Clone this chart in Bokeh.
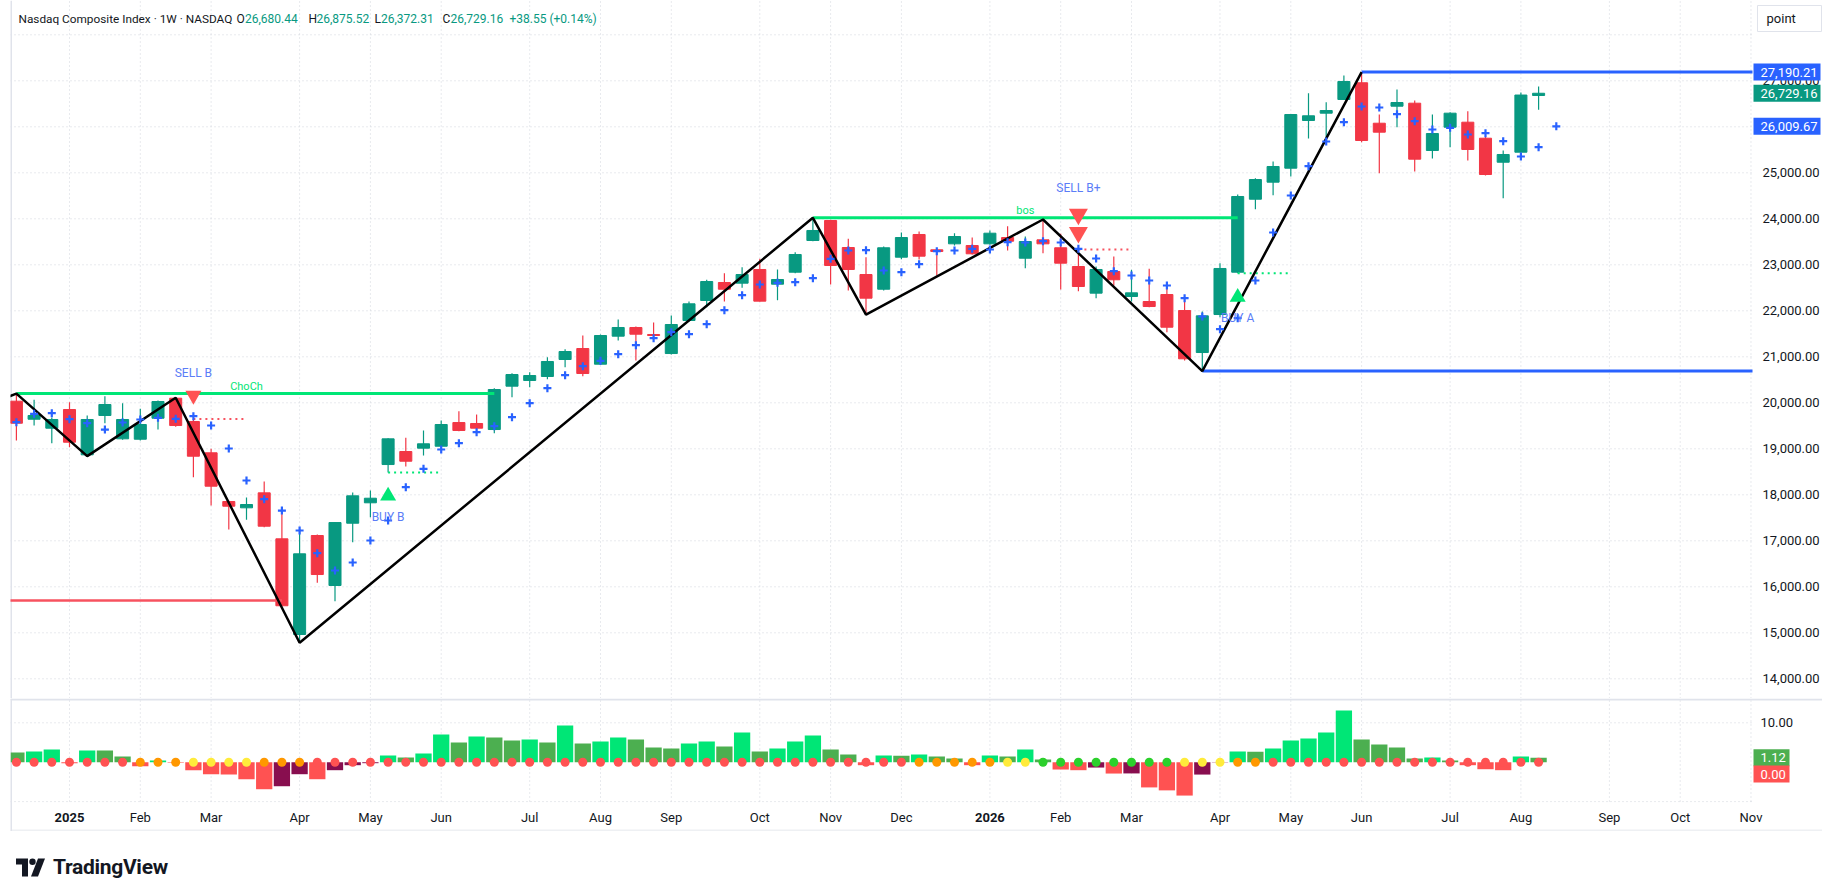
from bokeh.plotting import figure
from bokeh.models import Range1d, Label, ColumnDataSource, Div
from bokeh.layouts import column
from bokeh.embed import file_html
from bokeh.resources import INLINE
from bokeh.core.properties import value

FONT = "Roboto"
TXT = "#131722"
UP, DOWN = "#089981", "#F23645"
BLUE = "#2962FF"
GRID = "#d1d4dc"

# ---------------- data ----------------
# weekly bars, week index 0 = week of 2025-01-06
weeks = list(range(-3, 84))
opens = [20035, 19643, 19448, 19854, 18869, 19724, 19217, 19208, 19665, 20100,
         19593, 18913, 17854, 17717, 18043, 17043, 14963, 17115, 16028, 17382,
         17826, 18658, 18941, 19013, 19056, 19571, 19550, 19419, 20361, 20485,
         20572, 20941, 21180, 20839, 21448, 21637, 21485, 21071, 21789, 22224,
         22615, 22600, 22898, 22578, 22839, 23528, 23963, 23376, 22789, 22469,
         23165, 23659, 23326, 23456, 23419, 23456, 23593, 23143, 23543, 23370,
         22963, 22383, 22854, 22311, 22202, 22354, 22006, 21093, 21919, 22839,
         24426, 24796, 25100, 26137, 26296, 26594, 26957, 26078, 26448, 26513,
         25485, 25991, 26100, 25752, 25230, 25448, 26680.44]
highs = [20200, 20065, 19680, 20013, 19724, 20143, 19991, 19869, 20050, 20110,
         19650, 19000, 17870, 17941, 18289, 17658, 17261, 17137, 17410, 18050,
         18093, 19230, 19239, 19398, 19615, 19817, 19745, 20317, 20643, 20665,
         20991, 21165, 21463, 21485, 21811, 21659, 21746, 21898, 22202, 22674,
         22817, 22948, 23130, 22898, 23274, 24022, 23980, 23565, 23165, 23400,
         23702, 23724, 23330, 23687, 23593, 23746, 23839, 23615, 23985, 23674,
         23330, 22963, 23180, 22891, 22913, 22550, 22261, 21985, 23035, 24528,
         24883, 25246, 26280, 26731, 26535, 27115, 27190.21, 26267, 26811, 26572,
         26267, 26317, 26339, 25811, 25485, 26746, 26875.52]
lows = [19180, 19506, 19122, 19035, 18840, 19556, 19195, 19180, 19419, 19480,
        18382, 17767, 17245, 17456, 17295, 15575, 14784, 16087, 15687, 16969,
        17513, 18484, 18615, 18854, 18980, 19383, 19383, 19339, 20121, 20339,
        20513, 20774, 20578, 20833, 21354, 20919, 21426, 21050, 21767, 22078,
        22202, 22500, 22200, 22230, 22817, 23513, 22572, 22441, 21919, 22440,
        23122, 23115, 22767, 23419, 23224, 23435, 23311, 22926, 23252, 22463,
        22426, 22274, 22550, 22202, 22078, 21535, 20919, 20690.25, 21861, 22817,
        24209, 24513, 24920, 25746, 25739, 26590, 25665, 24991, 25991, 25028,
        25311, 25557, 25267, 24941, 24448, 25440, 26372.31]
closes = [19556, 19724, 19637, 19143, 19637, 19963, 19637, 19528, 20028, 19506,
          18839, 18187, 17752, 17789, 17317, 15588, 16717, 16267, 17397, 17978,
          17926, 19217, 18730, 19109, 19528, 19398, 19448, 20289, 20615, 20593,
          20898, 21115, 20637, 21463, 21637, 21491, 21463, 21702, 22152, 22637,
          22469, 22789, 22209, 22680, 23224, 23746, 22985, 22898, 22274, 23370,
          23593, 23187, 23289, 23615, 23239, 23687, 23513, 23506, 23456, 23035,
          22528, 22898, 22674, 22391, 22093, 21643, 20956, 21891, 22920, 24485,
          24854, 25137, 26267, 26239, 26354, 26985, 25702, 25883, 26528, 25296,
          25854, 26296, 25507, 24963, 25398, 26690.61, 26729.16]

# trailing "+" markers (plotted one bar ahead)
trail_weeks = list(range(-3, 85))
trail = [19578, 19761, 19774, 19643, 19556, 19419, 19572, 19637, 19674, 19652,
         19709, 19506, 19006, 18311, 17904, 17658, 17224, 16730, 16354, 16528,
         17006, 17441, 18165, 18565, 18985, 19122, 19361, 19491, 19687, 19991,
         20317, 20600, 20796, 20913, 21057, 21252, 21404, 21535, 21491, 21709,
         22013, 22339, 22572, 22609, 22622, 22709, 23130, 23311, 23317, 22876,
         22839, 23013, 23296, 23311, 23348, 23333, 23491, 23485, 23513, 23485,
         23348, 23137, 22861, 22767, 22659, 22550, 22274, 21876, 21600, 21839,
         22659, 23702, 24507, 25143, 25680, 26100, 26441, 26420, 26274, 26122,
         25941, 25978, 25833, 25861, 25687, 25354, 25557, 26009.67]

# squeeze momentum histogram and squeeze state dots
momentum = [2.46, 2.71, 3.22, -0.25, 2.97, 2.95, 1.44, -1.0, 0.42, -0.17,
            -2.03, -3.05, -3.1, -4.32, -6.86, -6.1, -3.05, -4.32, -2.03, -0.76,
            -0.25, 1.69, 1.19, 2.2, 7.03, 5.0, 6.53, 6.27, 5.5, 5.76,
            5.0, 9.32, 4.75, 5.25, 6.27, 5.76, 3.73, 3.47, 4.75, 5.25,
            3.98, 7.54, 2.71, 3.47, 5.25, 6.78, 3.22, 1.95, -0.76, 1.69,
            1.65, 1.95, 1.44, 0.93, -0.76, 1.69, 1.44, 3.22, 0.68, -1.86,
            -2.03, -1.36, -2.88, -2.85, -6.4, -7.15, -8.47, -3.14, -0.1, 2.71,
            2.68, 3.47, 5.5, 6.0, 7.54, 13.1, 5.76, 4.49, 3.73, 0.93,
            1.19, 0.42, -0.76, -1.78, -2.03, 1.44, 1.12]
squeeze = list("rrrrrrr" "ooo" "yyyy" "ooo"
               "rrrrrrrrrr" "rrrrrrrrrr" "rrrrrrrrrr" "rrrr"
               "ooooo" "yy" "gggggggg" "yyy" "oo"
               "rrrrrrrrrr" "rrrrrr")

# zigzag swing points
pivot_weeks = [-4, -3, 1, 6, 13, 42, 45, 55, 64, 73]
pivot_prices = [20050, 20200, 18840, 20110, 14784, 24022, 21919, 23985, 20690.25, 27190.21]

# structure levels
choch_level, choch_from, choch_to = 20200, -3, 24
bos_level, bos_from, bos_to = 24022, 42, 66
weak_low, weak_from, weak_to = 15702, -4, 12
range_high, range_high_from = 27190.21, 73
range_low, range_low_from = 20690.25, 64

# entry levels (dotted)
lvl_weeks = [7, 18, 57, 66]
lvl_prices = [19650, 18484, 23330, 22817]
lvl_side = ["sell", "buy", "sell", "buy"]

# signals
sig_weeks = [7, 18, 57, 57, 66]
sig_prices = [20159, 17974, 24098, 23702, 22296]
sig_side = ["sell", "buy", "sell", "sell", "buy"]
lab_weeks = [7, 18, 57, 66]
lab_prices = [20643, 17513, 24660, 21839]
lab_text = ["SELL B", "BUY B", "SELL B+", "BUY A"]

month_weeks = [0, 4, 8, 13, 17, 21, 26, 30, 34, 39, 43, 47, 52, 56, 60, 65, 69, 73, 78, 82, 87, 91, 95]
month_labels = ["2025", "Feb", "Mar", "Apr", "May", "Jun", "Jul", "Aug", "Sep", "Oct", "Nov", "Dec",
                "2026", "Feb", "Mar", "Apr", "May", "Jun", "Jul", "Aug", "Sep", "Oct", "Nov"]
grid_prices = list(range(14000, 28001, 1000))
label_prices = list(range(14000, 27001, 1000))
mom_grid = [10, -10]
mom_labels = [10]

# ---------------- pixel geometry ----------------
W = 1822
PX_W = 17.7                      # px per week
X_LEFT = -3.3333                 # week at page x = 10
def wx(page_x):
    return X_LEFT + (page_x - 10) / PX_W
X_EDGE = wx(1752)                # right edge of plotting area (price scale starts)
X_END = wx(1822)
P_PER_PX = 1 / 0.046
def py(page_y):                  # page y -> price
    return 28745.65 - page_y * P_PER_PX
M_PER_PX = 1 / 3.94
def my(page_y):                  # page y -> momentum
    return (761.7 - page_y) * M_PER_PX

# ---------------- price pane ----------------
p1 = figure(width=W, height=698, x_range=Range1d(X_LEFT, X_END), y_range=Range1d(py(698), py(0)),
            output_backend="svg", toolbar_location=None,
            x_axis_location=None, y_axis_location=None,
            min_border_left=10, min_border_right=0, min_border_top=0, min_border_bottom=0)
p1.outline_line_color = None
p1.grid.visible = False

# grid
p1.segment(x0=[X_LEFT] * len(grid_prices), x1=[X_EDGE] * len(grid_prices), y0=grid_prices, y1=grid_prices,
           line_color=GRID, line_dash="1 3", line_width=1)
p1.segment(x0=month_weeks, x1=month_weeks, y0=[py(698)] * len(month_weeks), y1=[py(0)] * len(month_weeks),
           line_color=GRID, line_dash="1 3", line_width=1)
p1.segment(x0=[X_LEFT + 0.03], x1=[X_LEFT + 0.03], y0=[py(698)], y1=[py(0)], line_color="#e0e3eb", line_width=2)

cols = [UP if c >= o else DOWN for o, c in zip(opens, closes)]
src = ColumnDataSource(dict(w=weeks, o=opens, h=highs, l=lows, c=closes,
                            top=[max(o, c) for o, c in zip(opens, closes)],
                            bot=[min(o, c) for o, c in zip(opens, closes)],
                            col=cols))
p1.segment(x0="w", y0="l", x1="w", y1="h", line_color="col", line_width=1.2, source=src)
p1.vbar(x="w", width=0.68, top="top", bottom="bot", fill_color="col", line_color="col", source=src)

# structure lines
p1.line([choch_from, choch_to], [choch_level, choch_level], line_color="#00E676", line_width=3)
p1.line([bos_from, bos_to], [bos_level, bos_level], line_color="#00E676", line_width=3)
p1.line([weak_from, weak_to], [weak_low, weak_low], line_color="#F7525F", line_width=2.5)
p1.line([range_high_from, X_EDGE], [range_high, range_high], line_color=BLUE, line_width=3)
p1.line([range_low_from, X_EDGE], [range_low, range_low], line_color=BLUE, line_width=3)
p1.text(x=[(choch_from + choch_to) / 2 - 0.5], y=[choch_level], text=["ChoCh"], text_color="#00E676",
        text_font=value(FONT), text_font_size="11px", text_align="center", text_baseline="bottom",
        y_offset=-1)
p1.text(x=[(bos_from + bos_to) / 2], y=[bos_level], text=["bos"], text_color="#00E676",
        text_font=value(FONT), text_font_size="11px", text_align="center", text_baseline="bottom",
        y_offset=-1)

# dotted entry levels
for wk, pr, sd in zip(lvl_weeks, lvl_prices, lvl_side):
    p1.line([wk, wk + 2.9], [pr, pr], line_color=("#F7525F" if sd == "sell" else "#00E676"),
            line_width=2, line_dash="2 4")

# zigzag
p1.line(pivot_weeks, pivot_prices, line_color="black", line_width=2.5)

# trailing markers
p1.scatter(trail_weeks, trail, marker="cross", size=8, line_width=2.2, line_color=BLUE)

# signals
for wk, pr, sd in zip(sig_weeks, sig_prices, sig_side):
    big = (wk == 57)
    if sd == "sell":
        p1.scatter([wk], [pr], marker="inverted_triangle", size=(19 if big else 16),
                   fill_color="#FF5252", line_color=None)
    else:
        p1.scatter([wk], [pr], marker="triangle", size=16, fill_color="#00E676", line_color=None)
p1.text(x=lab_weeks, y=lab_prices, text=lab_text, text_color="#5b7df7", text_font=value(FONT),
        text_font_size="12px", text_align="center", text_baseline="middle")

# price scale labels
p1.text(x=[wx(1762)] * len(label_prices), y=label_prices, text=[f"{v:,.2f}" for v in label_prices],
        text_color=TXT, text_font=value(FONT), text_font_size="13px", text_align="left",
        text_baseline="middle")

# price tags
def tag(plot, yv, half, txt, bg, width_px):
    plot.quad(left=[wx(1753)], right=[wx(1753 + width_px)], bottom=[yv - half], top=[yv + half],
              fill_color=bg, line_color=None)
    plot.text(x=[wx(1760)], y=[yv], text=[txt], text_color="white", text_font=value(FONT),
              text_font_size="13px", text_align="left", text_baseline="middle")

tag(p1, range_high, 8.5 * P_PER_PX, f"{range_high:,.2f}", BLUE, 67)
tag(p1, closes[-1], 8.5 * P_PER_PX, f"{closes[-1]:,.2f}", UP, 67)
tag(p1, trail[-1], 8.5 * P_PER_PX, f"{trail[-1]:,.2f}", BLUE, 67)

# point button
p1.quad(left=[wx(1757)], right=[wx(1821)], bottom=[py(31)], top=[py(5)], fill_color="white",
        line_color="#e0e3eb", line_width=1)
p1.text(x=[wx(1766)], y=[py(18)], text=["point"], text_color=TXT, text_font=value(FONT),
        text_font_size="13px", text_align="left", text_baseline="middle")

# header legend
def hdr(px, txt, color, size="12px"):
    p1.add_layout(Label(x=px - 10, y=680, x_units="screen", y_units="screen", text=txt,
                        text_color=color, text_font=FONT, text_font_size=size,
                        text_baseline="middle", text_align="left"))

hdr(18, "Nasdaq Composite Index \u00b7 1W \u00b7 NASDAQ", TXT, "11.8px")
hdr(236, "O", TXT); hdr(244.5, f"{opens[-1]:,.2f}", UP)
hdr(308, "H", TXT); hdr(316, f"{highs[-1]:,.2f}", UP)
hdr(374, "L", TXT); hdr(380.5, f"{lows[-1]:,.2f}", UP)
hdr(442, "C", TXT); hdr(450, f"{closes[-1]:,.2f}", UP)
chg = closes[-1] - closes[-2]
hdr(509, f"+{chg:,.2f} (+{chg / closes[-2] * 100:.2f}%)", UP)

# ---------------- squeeze pane (with time scale) ----------------
p2 = figure(width=W, height=133, x_range=p1.x_range, y_range=Range1d(my(831), my(698)),
            output_backend="svg", toolbar_location=None,
            x_axis_location=None, y_axis_location=None,
            min_border_left=10, min_border_right=0, min_border_top=0, min_border_bottom=0)
p2.outline_line_color = None
p2.grid.visible = False

p2.segment(x0=[X_LEFT] * len(mom_grid), x1=[X_EDGE] * len(mom_grid), y0=mom_grid, y1=mom_grid,
           line_color=GRID, line_dash="1 3", line_width=1)
p2.segment(x0=month_weeks, x1=month_weeks, y0=[my(801)] * len(month_weeks), y1=[my(698)] * len(month_weeks),
           line_color=GRID, line_dash="1 3", line_width=1)
p2.segment(x0=[X_LEFT], x1=[X_END], y0=[my(699)], y1=[my(699)], line_color="#e0e3eb", line_width=2)
p2.segment(x0=[X_LEFT], x1=[X_END], y0=[my(830)], y1=[my(830)], line_color="#eef0f3", line_width=2)
p2.segment(x0=[X_LEFT + 0.03], x1=[X_LEFT + 0.03], y0=[my(831)], y1=[my(698)], line_color="#e0e3eb", line_width=2)

hist_cols = []
prev = None
for v in momentum:
    pv = v if prev is None else prev
    if v >= 0:
        hist_cols.append("#00E676" if v > pv else "#4CAF50")
    else:
        hist_cols.append("#FF5252" if v < pv else "#880E4F")
    prev = v
dot_map = {"r": "#FF5252", "o": "#FF9800", "y": "#FFEB3B", "g": "#2BD02B"}
p2.vbar(x=weeks, top=momentum, bottom=0, width=0.92, fill_color=hist_cols, line_color=None)
p2.scatter(weeks, [0] * len(weeks), size=9, marker="circle",
           fill_color=[dot_map[s] for s in squeeze], line_color=None)

# momentum scale
p2.text(x=[wx(1760)] * len(mom_labels), y=mom_labels, text=[f"{v:.2f}" for v in mom_labels],
        text_color=TXT, text_font=value(FONT), text_font_size="13px", text_align="left",
        text_baseline="middle")
tag(p2, momentum[-1], 8.5 * M_PER_PX, f"{momentum[-1]:.2f}", "#4CAF50", 36)
tag(p2, my(773.5), 8.5 * M_PER_PX, "0.00", "#FF5252", 36)

# time scale
mw = [w for w, l in zip(month_weeks, month_labels) if not l.isdigit()]
ml = [l for l in month_labels if not l.isdigit()]
yw = [w for w, l in zip(month_weeks, month_labels) if l.isdigit()]
yl = [l for l in month_labels if l.isdigit()]
p2.text(x=mw, y=[my(817)] * len(mw), text=ml, text_color=TXT, text_font=value(FONT),
        text_font_size="13px", text_align="center", text_baseline="middle")
p2.text(x=yw, y=[my(817)] * len(yw), text=yl, text_color=TXT, text_font=value(FONT),
        text_font_size="13px", text_font_style="bold", text_align="center", text_baseline="middle")

logo = Div(text=('<div style="display:flex;align-items:center;gap:8px;margin:20px 0 0 11px;height:22px;">'
                 '<svg width="29" height="19" viewBox="0 0 29 18">'
                 '<path d="M0 0h12v18h-6v-12h-6z" fill="#131722"/>'
                 '<circle cx="16.5" cy="3.2" r="3.2" fill="#131722"/>'
                 '<path d="M22 0h7l-7 18h-7z" fill="#131722"/></svg>'
                 '<span style="font-family:Roboto;font-weight:700;font-size:21px;color:#131722;'
                 'letter-spacing:-0.3px;">TradingView</span></div>'),
           width=400, height=45)

layout = column(p1, p2, logo)
open("out.html", "w").write(file_html(layout, INLINE))
